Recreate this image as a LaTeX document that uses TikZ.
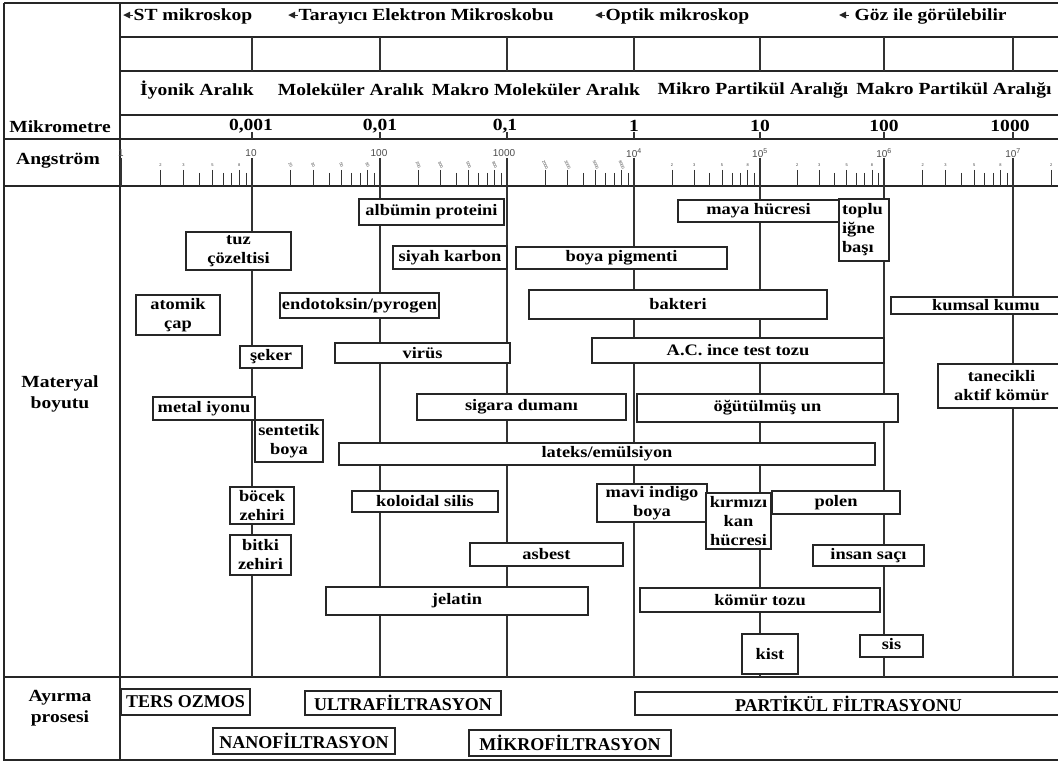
\documentclass[tikz,border=0pt]{standalone}
\usepackage{fontspec}
\setmainfont{Liberation Serif}
\newfontfamily\widefam[FakeStretch=1.15]{Liberation Serif}
\newfontfamily\sansfam{Liberation Sans}
\newcommand\boxf{\widefam\bfseries\fontsize{16}{19}\selectfont}
\newcommand\hdrf{\widefam\bfseries\fontsize{17}{21}\selectfont}
\newcommand\procf{\bfseries\fontsize{18}{20}\selectfont}
\newcommand\arr{\tikz[baseline=0pt]{\fill[black!85] (0pt,5pt) -- (7pt,8.5pt) -- (7pt,1.5pt) -- cycle; \draw[black!85, line width=1pt] (6pt,5pt) -- (10pt,5pt);}}
\newcommand\matbox[6]{\node[matbox, minimum width={(#4-#2)*1pt}, minimum height={(#5-#3)*1pt}] (#1) at ({(#2+#4)/2},{(#3+#5)/2}) {#6};}
\newcommand\procbox[6]{\node[procbox, minimum width={(#4-#2)*1pt}, minimum height={(#5-#3)*1pt}] (#1) at ({(#2+#4)/2},{(#3+#5)/2}) {#6};}
\begin{document}
\begin{tikzpicture}[x=1pt,y=-1pt,
  grid/.style={line width=1.1pt, draw=black!80},
  frame/.style={line width=1.3pt, draw=black!85},
  tick/.style={line width=0.8pt, draw=black!80},
  matbox/.style={draw=black!85, line width=1.3pt, fill=white, inner sep=0pt, align=center, font=\boxf},
  procbox/.style={draw=black!85, line width=1.3pt, fill=white, inner sep=0pt, font=\procf},
  hdr/.style={font=\hdrf, inner sep=0pt, align=center},
  majlab/.style={font=\sansfam\fontsize{10}{10}\selectfont, text=black!70, inner sep=0pt},
  minlab/.style={font=\sansfam\fontsize{4}{4}\selectfont, text=black!75, inner sep=0pt}]
\useasboundingbox (0,0) rectangle (1058,762);
\fill[white] (0,0) rectangle (1058,762);
% frame
\draw[frame] (4,3) -- (1058,3);
\draw[frame] (4,3) -- (4,760) -- (1058,760);
\draw[frame] (120,3) -- (120,760);
\draw[frame] (120,37) -- (1058,37);
\draw[frame] (120,71) -- (1058,71);
\draw[frame] (120,115) -- (1058,115);
\draw[frame] (4,139) -- (1058,139);
\draw[frame] (4,186) -- (1058,186);
\draw[frame] (4,677) -- (1058,677);
% grid
\draw[grid] (121,158) -- (121,186);
\foreach \x in {252,380,507,634,760,884,1013} {
  \draw[grid] (\x,158) -- (\x,677);
  \draw[grid] (\x,37) -- (\x,71);
  \draw[grid] (\x,132) -- (\x,139);
}
% minor ticks
\foreach \d/\w in {121/131,252/128,380/127,507/127,634/126,760/124,884/129,1013/127} {
  \foreach \k in {2,...,9} {
    \pgfmathsetmacro\xx{\d+\w*log10(\k)}
    \pgfmathsetmacro\yy{(\k==2||\k==3||\k==5||\k==8)?170:173}
    \pgfmathparse{\xx<1057?1:0}
    \ifnum\pgfmathresult=1 \draw[tick] (\xx,\yy) -- (\xx,186);\fi
  }
}
% minor labels
\foreach \d/\w/\r/\s in {121/131/0/, 252/128/-65/0, 380/127/-65/00, 507/127/-65/000, 634/126/0/, 760/124/0/, 884/129/0/, 1013/127/0/} {
  \foreach \k in {2,3,5,8} {
    \pgfmathsetmacro\xx{\d+\w*log10(\k)}
    \pgfmathparse{\xx<1057?1:0}
    \ifnum\pgfmathresult=1 \node[minlab, rotate=\r] at (\xx,165) {\k\s};\fi
  }
}
% major labels
\node[majlab] (a1) at (121,153) {1};
\node[majlab] (a10) at (251,153) {10};
\node[majlab] (a100) at (379,153) {100};
\node[majlab] (a1000) at (504,153) {1000};
\node[majlab] (a4) at (634,153) {10\textsuperscript{4}};
\node[majlab] (a5) at (760,153) {10\textsuperscript{5}};
\node[majlab] (a6) at (884,153) {10\textsuperscript{6}};
\node[majlab] (a7) at (1013,153) {10\textsuperscript{7}};
% left labels
\node[hdr] (lmik) at (60,127) {Mikrometre};
\node[hdr] (lang) at (58,161) {Angström};
\node[hdr] (lmat) at (60,394) {Materyal\\boyutu};
\node[hdr] (lay) at (60,708) {Ayırma\\prosesi};
% microscopes
\node[hdr, anchor=west] (m1) at (123,16) {\arr ST mikroskop};
\node[hdr, anchor=west] (m2) at (288,16) {\arr Tarayıcı Elektron Mikroskobu};
\node[hdr, anchor=west] (m3) at (595,16) {\arr Optik mikroskop};
\node[hdr, anchor=west] (m4) at (839,16) {\arr\ Göz ile görülebilir};
% ranges
\node[hdr] (r1) at (197,90) {İyonik Aralık};
\node[hdr] (r2) at (351,90) {Moleküler Aralık};
\node[hdr] (r3) at (536,90) {Makro Moleküler Aralık};
\node[hdr] (r4) at (753,90) {Mikro Partikül Aralığı};
\node[hdr] (r5) at (954,90) {Makro Partikül Aralığı};
% micrometre values
\node[hdr] (u1) at (251,126) {0,001};
\node[hdr] (u2) at (380,126) {0,01};
\node[hdr] (u3) at (505,126) {0,1};
\node[hdr] (u4) at (634,126) {1};
\node[hdr] (u5) at (760,126) {10};
\node[hdr] (u6) at (884,126) {100};
\node[hdr] (u7) at (1010,126) {1000};
% material boxes
\matbox{albumin}{359}{199}{504}{225}{albümin proteini}
\matbox{tuz}{186}{232}{291}{270}{tuz\\çözeltisi}
\matbox{siyah}{393}{246}{507}{269}{siyah karbon}
\matbox{pigment}{516}{247}{727}{269}{boya pigmenti}
\matbox{atomik}{136}{295}{220}{335}{atomik\\çap}
\matbox{endo}{280}{293}{439}{318}{endotoksin/pyrogen}
\matbox{bakteri}{529}{290}{827}{319}{bakteri}
\matbox{seker}{240}{346}{302}{368}{şeker}
\matbox{virus}{335}{343}{510}{363}{virüs}
\matbox{acince}{592}{338}{884}{363}{A.C. ince test tozu}
\matbox{metal}{153}{397}{255}{420}{metal iyonu}
\matbox{sigara}{417}{394}{626}{420}{sigara dumanı}
\matbox{un}{637}{394}{898}{422}{öğütülmüş un}
\matbox{sentetik}{255}{420}{323}{462}{sentetik\\boya}
\matbox{lateks}{339}{443}{875}{465}{lateks/emülsiyon}
\matbox{maya}{678}{200}{839}{222}{maya hücresi}
\node[matbox, align=left, minimum width=50pt, minimum height=62pt, text width=44pt] (toplu) at (864,230) {toplu\\iğne\\başı};
\matbox{kumsal}{891}{297}{1081}{314}{kumsal kumu}
\matbox{tanecik}{938}{364}{1065}{408}{tanecikli\\aktif kömür}
\matbox{bocek}{230}{487}{294}{524}{böcek\\zehiri}
\matbox{bitki}{230}{535}{291}{575}{bitki\\zehiri}
\matbox{koloid}{352}{491}{498}{512}{koloidal silis}
\matbox{asbest}{470}{543}{623}{566}{asbest}
\matbox{jelatin}{326}{587}{588}{615}{jelatin}
\matbox{mavi}{597}{484}{707}{522}{mavi indigo\\boya}
\matbox{kirmizi}{706}{493}{771}{549}{kırmızı\\kan\\hücresi}
\matbox{polen}{772}{491}{900}{514}{polen}
\matbox{sac}{813}{545}{924}{566}{insan saçı}
\matbox{komur}{640}{588}{880}{612}{kömür tozu}
\matbox{kist}{742}{634}{798}{674}{kist}
\matbox{sis}{860}{635}{923}{657}{\raisebox{5pt}{sis}}
% process boxes
\procbox{ters}{121}{689}{250}{715}{TERS OZMOS}
\procbox{ultra}{305}{691}{501}{715}{ULTRAFİLTRASYON}
\procbox{nano}{213}{728}{395}{754}{NANOFİLTRASYON}
\procbox{mikro}{469}{730}{671}{756}{MİKROFİLTRASYON}
\procbox{partikul}{635}{692}{1062}{715}{PARTİKÜL FİLTRASYONU}
\end{tikzpicture}
\end{document}
